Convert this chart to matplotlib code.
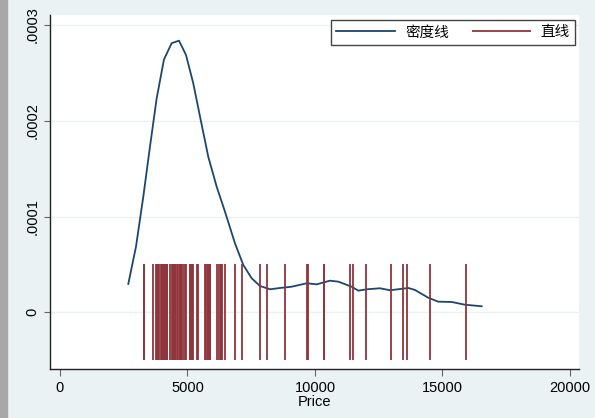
import matplotlib
matplotlib.use('Agg')
import matplotlib.pyplot as plt
from matplotlib.patches import Rectangle

# car prices (one spike per car)
prices = [4099, 4749, 3799, 4816, 7827, 5788, 4453, 5189, 10372, 4082,
          11385, 14500, 15906, 3299, 5705, 4504, 5104, 3667, 3955, 3984,
          4010, 5886, 6342, 4389, 4187, 11497, 13594, 13466, 3829, 5379,
          6165, 4516, 6303, 3291, 8814, 5172, 4733, 4890, 4181, 4195,
          10371, 4647, 4425, 4482, 6486, 4060, 5798, 4934, 5222, 4723,
          4424, 4172, 9690, 6295, 9735, 6229, 4589, 5079, 8129, 4296,
          5799, 4499, 3995, 12990, 3895, 3798, 5899, 3748, 5719, 7140,
          5397, 4697, 6850, 11995]

# density curve
dens_x = [2678, 2980, 3267, 3529, 3792, 4078, 4380, 4667, 4941, 5227,
          5518, 5816, 6145, 6471, 6863, 7188, 7518, 7843, 8235, 8627,
          9086, 9675, 10067, 10588, 10914, 11439, 11698, 12027, 12549, 12941,
          13333, 13659, 13922, 14443, 14835, 15361, 15882, 16537]
dens_y = [0.0000296, 0.0000685, 0.0001207, 0.0001730, 0.0002235, 0.0002640,
          0.0002810, 0.0002836, 0.0002687, 0.0002390, 0.0002008, 0.0001623,
          0.0001311, 0.0001050, 0.0000720, 0.0000494, 0.0000355, 0.0000275,
          0.0000240, 0.0000254, 0.0000267, 0.0000303, 0.0000292, 0.0000330,
          0.0000320, 0.0000267, 0.0000226, 0.0000240, 0.0000251, 0.0000230,
          0.0000243, 0.0000254, 0.0000233, 0.0000152, 0.0000111, 0.0000108,
          0.0000079, 0.0000063]

xticks = [0, 5000, 10000, 15000, 20000]
yticks = [0, 0.0001, 0.0002, 0.0003]
ytick_labels = ['0', '.0001', '.0002', '.0003']

plt.rcParams['font.family'] = ['Liberation Sans', 'Noto Sans CJK SC']

bg = '#eaf2f3'
fig = plt.figure(figsize=(5.95, 4.18), dpi=100, facecolor=bg)
fig.patches.append(Rectangle((0, 0), 7 / 595, 1, transform=fig.transFigure,
                             color='#a8a8a8', zorder=0))
ax = fig.add_axes([50.3 / 595, 49 / 418, 529 / 595, 354 / 418])
ax.set_facecolor('white')

ax.plot(dens_x, dens_y, color='#1a476f', linewidth=1.3, label='密度线')
ax.vlines(prices, -0.00005, 0.00005, color='#90353b', linewidth=1.3,
          label='直线')

ax.set_xlim(-380, 20365)
ax.set_ylim(-0.0000592, 0.0003104)

ax.set_xticks(xticks)
ax.set_xticklabels([str(t) for t in xticks])
ax.set_yticks(yticks)
ax.set_yticklabels(ytick_labels, rotation=90, va='center')
ax.tick_params(axis='x', length=5, color='#666666', labelsize=10.5, pad=4)
ax.tick_params(axis='y', length=4, color='#666666', labelsize=10.5, pad=4)

ax.yaxis.grid(True, color=bg, linewidth=1.0)
ax.set_axisbelow(True)

for side in ['top', 'right']:
    ax.spines[side].set_visible(False)
for side in ['left', 'bottom']:
    ax.spines[side].set_color('#222222')
    ax.spines[side].set_linewidth(1.0)

ax.set_xlabel('Price', fontsize=10.5, labelpad=0)

legend = ax.legend(loc='upper right', bbox_to_anchor=(0.992, 0.985), ncol=2,
                   fontsize=10.5, handlelength=4.0, handletextpad=0.7,
                   columnspacing=1.6, borderaxespad=0, fancybox=False,
                   framealpha=1, borderpad=0.35)
legend.get_frame().set_edgecolor('#444444')
legend.get_frame().set_linewidth(1.0)

fig.savefig('out.png', dpi=100, facecolor=bg)
